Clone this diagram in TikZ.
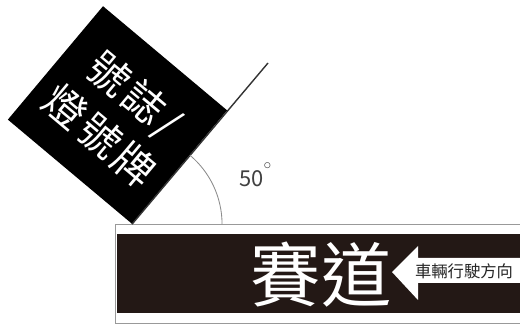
\documentclass[tikz,border=0pt]{standalone}
\usepackage{fontspec}
\newfontfamily\cjk{Noto Sans CJK TC}
\newfontfamily\cjksign[LetterSpace=8]{Noto Sans CJK TC}
\usetikzlibrary{positioning}
\definecolor{trackdark}{HTML}{231815}

\begin{document}
\begin{tikzpicture}[x=0.025cm,y=-0.025cm,
		signbox/.style={rotate=-40,fill=black,text=white,minimum width=4.05cm,minimum height=3.7cm,inner sep=0pt,align=center,font=\cjksign\fontsize{29.5}{38}\selectfont},
		pole/.style={draw=black!80,line width=1pt},
		anglearc/.style={draw=black!45,line width=0.6pt}]
		\useasboundingbox (0,0) rectangle (520,326);
		\fill[white] (0,0) rectangle (520,326);
		% track
		\draw[draw=black!40,line width=0.6pt,fill=white] (115.5,224) rectangle (530,323);
		\fill[trackdark] (117,234) rectangle (530,313);
		\node[text=white,font=\cjk\fontsize{50}{50}\selectfont] (race) at (321,275) {賽道};
		\fill[white] (392,272) -- (418,246) -- (418,258) -- (530,258) -- (530,283) -- (418,283) -- (418,300) -- cycle;
		\node[text=black!85,font=\cjk\fontsize{11.6}{12}\selectfont,inner sep=0pt] (dir) at (464,271) {車輛行駛方向};
		% sign and pole
		\node[signbox] (sign) at (117.5,115) {號誌/\\燈號牌};
		\coordinate (poletop) at (268,63);
		\draw[pole] (sign.south east) -- (poletop);
		\draw[anglearc] (sign.south east) ++(0:2.25cm) arc[start angle=0,end angle=50,radius=2.25cm];
		\node[anchor=base west,inner sep=0pt,text=black!75,font=\cjk\fontsize{15.6}{16}\selectfont] (deg) at (239,187) {50\raisebox{0.45em}{$^{\circ}$}};
	\end{tikzpicture}
\end{document}
